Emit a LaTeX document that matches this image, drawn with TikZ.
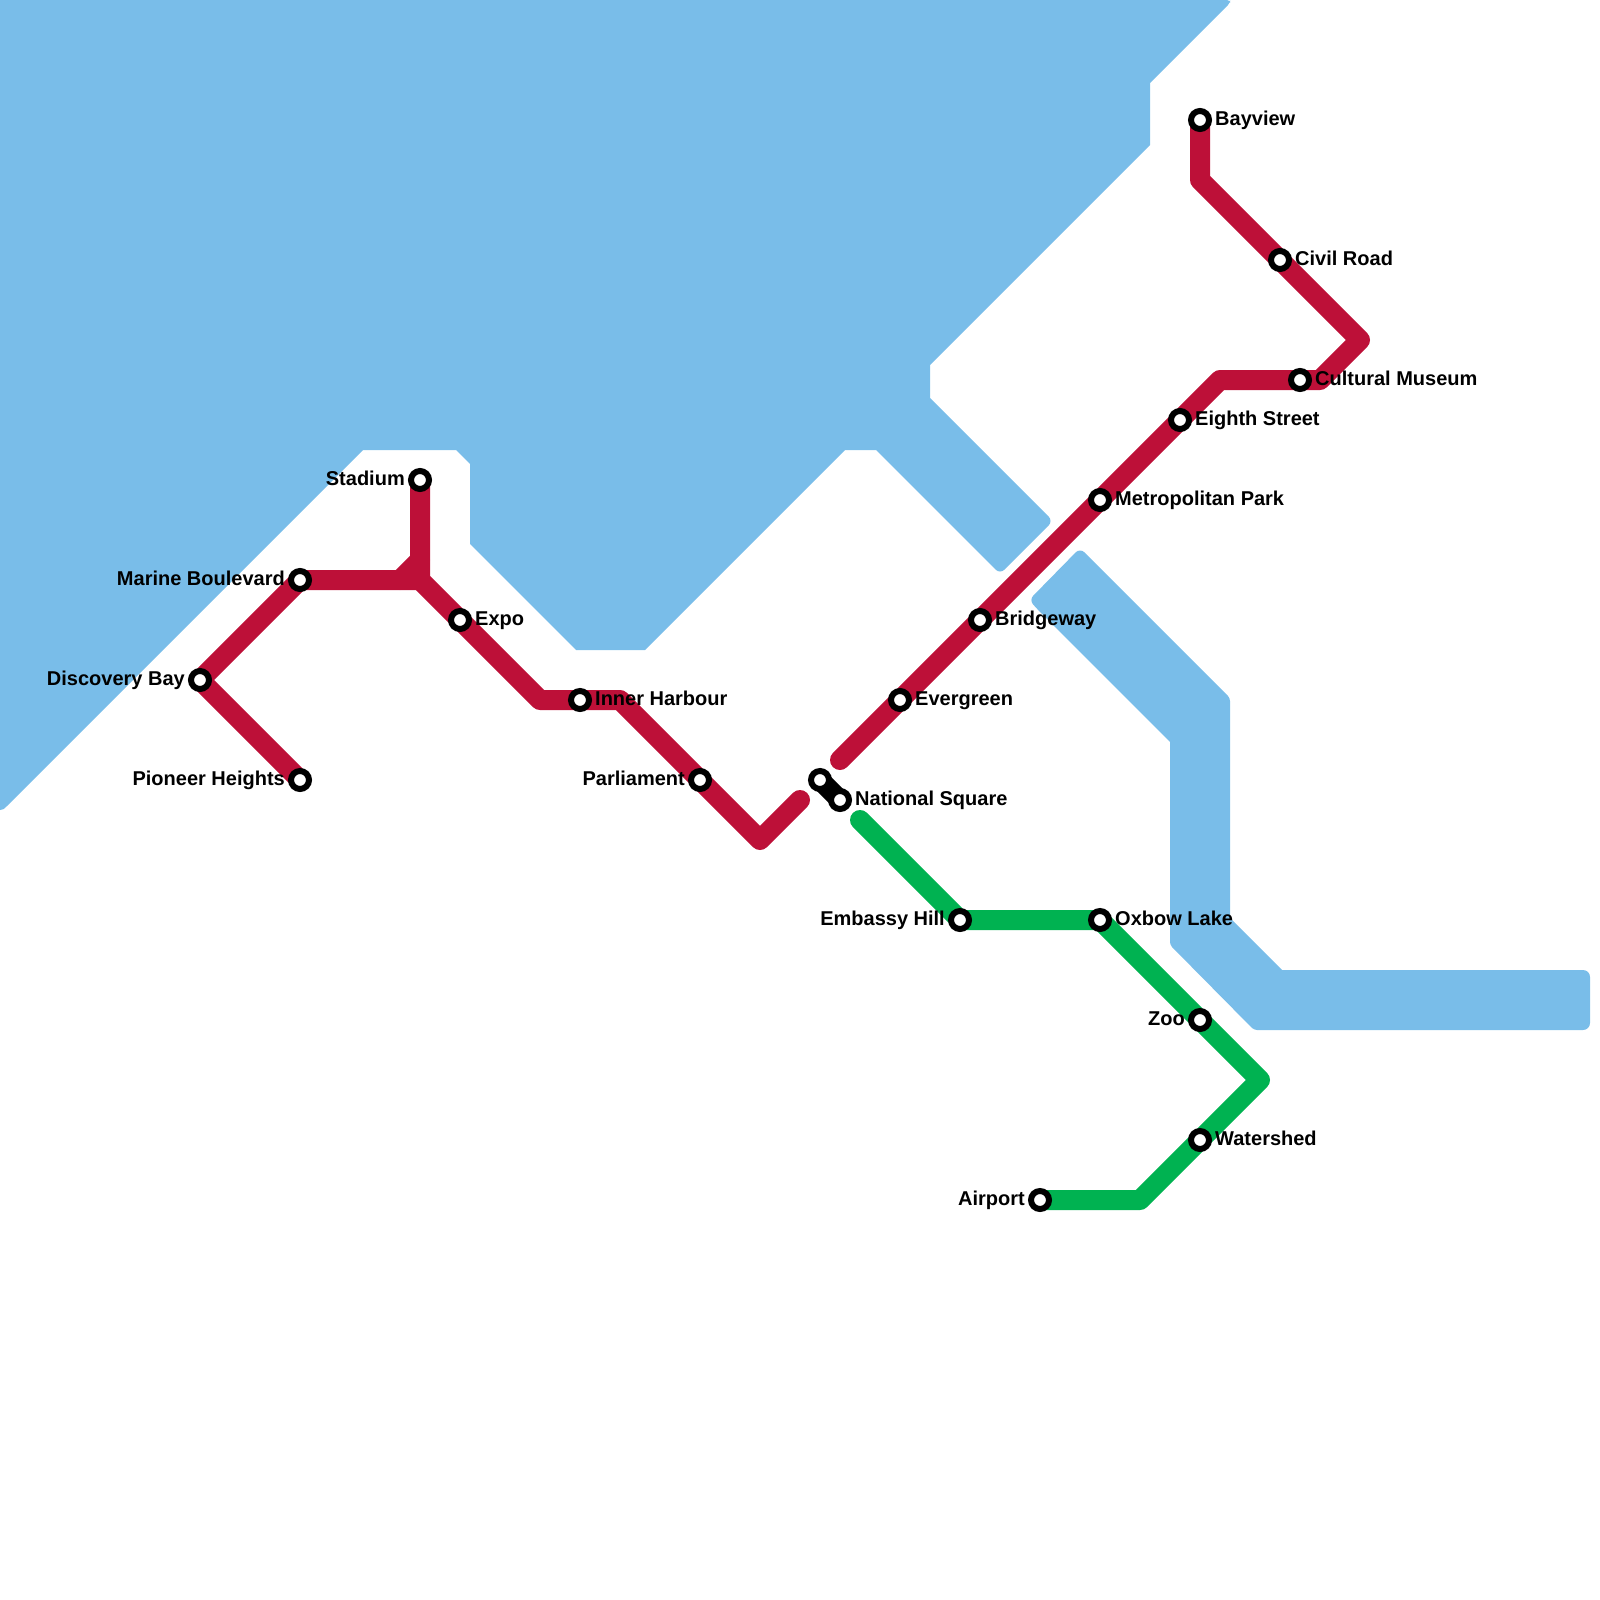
\documentclass[tikz,border=0pt]{standalone}
\usepackage{fontspec}
\setmainfont{Liberation Sans}
\pgfdeclarelayer{water}
\pgfdeclarelayer{lines}
\pgfsetlayers{water,lines,main}
\definecolor{waterblue}{HTML}{79BDE9}
\definecolor{redline}{HTML}{BD1038}
\definecolor{greenline}{HTML}{00B251}
\tikzset{
  x=1pt,y=-1pt,
  waterfill/.style={fill=waterblue,draw=none},
  metro/.style={line width=20pt,line join=round,line cap=round},
  stationmark/.style={circle,draw=black,fill=white,line width=6pt,minimum size=18pt,inner sep=0pt},
  stationtext/.style={font=\bfseries\fontsize{20}{20}\selectfont,text=black,inner sep=0pt},
}
\newcommand{\stR}[4]{\node[stationmark] (#1) at (#2,#3) {};\node[stationtext,anchor=base west] (#1t) at (#2+15,#3+5) {#4};}
\newcommand{\stL}[4]{\node[stationmark] (#1) at (#2,#3) {};\node[stationtext,anchor=base east] (#1t) at (#2-15,#3+5) {#4};}
\begin{document}
\begin{tikzpicture}
\useasboundingbox (0,0) rectangle (1600,1600);
\begin{pgfonlayer}{water}
\fill[waterfill] (0,0) -- (1220,0) [rounded corners=3pt] -- (1230,0) -- (1230,3) [sharp corners] -- (1150,83) -- (1150,145) -- (930,365) -- (930,398)
  -- (1047,515) [rounded corners=6pt] -- (1053,521) -- (1000,574) [sharp corners] -- (876,450) -- (845,450) -- (645,650) -- (576,650) -- (470,544) -- (470,464) -- (456,450) -- (363,450)
  -- (7,806) .. controls (4,809) and (3,810) .. (0,810) -- cycle;
\fill[waterfill] (1100,568) [rounded corners=3pt] -- (1230,698) [sharp corners] -- (1230,918) -- (1282,970)
  [rounded corners=7pt] -- (1590,970) -- (1590,1030) [rounded corners=3pt] -- (1254,1030) -- (1170,945) [sharp corners] -- (1170,742) -- (1040,612) [rounded corners=6pt] -- (1029,600) -- (1080,548) [sharp corners] -- cycle;
\end{pgfonlayer}
\stL{pioneer}{300}{780}{Pioneer Heights}
\stL{discovery}{200}{680}{Discovery Bay}
\stL{marine}{300}{580}{Marine Boulevard}
\stL{stadium}{420}{480}{Stadium}
\stR{expo}{460}{620}{Expo}
\stR{inner}{580}{700}{Inner Harbour}
\stL{parliament}{700}{780}{Parliament}
\node[stationmark] (nsa) at (820,780) {};
\stR{nsb}{840}{800}{National Square}
\stR{evergreen}{900}{700}{Evergreen}
\stR{bridgeway}{980}{620}{Bridgeway}
\stR{metropolitan}{1100}{500}{Metropolitan Park}
\stR{eighth}{1180}{420}{Eighth Street}
\stR{cultural}{1300}{380}{Cultural Museum}
\stR{civil}{1280}{260}{Civil Road}
\stR{bayview}{1200}{120}{Bayview}
\stL{embassy}{960}{920}{Embassy Hill}
\stR{oxbow}{1100}{920}{Oxbow Lake}
\stL{zoo}{1200}{1020}{Zoo}
\stR{watershed}{1200}{1140}{Watershed}
\stL{airport}{1040}{1200}{Airport}
\coordinate (r1) at (1200,180);
\coordinate (r2) at (1360,340);
\coordinate (r3) at (1320,380);
\coordinate (r4) at (1220,380);
\coordinate (r5) at (840,760);
\coordinate (r6) at (800,800);
\coordinate (r7) at (760,840);
\coordinate (r8) at (620,700);
\coordinate (r9) at (540,700);
\coordinate (r10) at (420,580);
\coordinate (r11) at (400,580);
\coordinate (r12) at (420,560);
\coordinate (g1) at (860,820);
\coordinate (g2) at (1260,1080);
\coordinate (g3) at (1140,1200);
\begin{pgfonlayer}{lines}
\draw[metro,redline] (bayview.center) -- (r1) -- (civil.center) -- (r2) -- (r3) -- (cultural.center) -- (r4) -- (eighth.center) -- (metropolitan.center) -- (bridgeway.center) -- (evergreen.center) -- (r5);
\draw[metro,redline] (r6) -- (r7) -- (parliament.center) -- (r8) -- (inner.center) -- (r9) -- (expo.center) -- (r10) -- (stadium.center);
\draw[metro,redline] (pioneer.center) -- (discovery.center) -- (marine.center) -- (r10);
\draw[metro,redline] (r11) -- (r12);
\draw[metro,greenline] (g1) -- (embassy.center) -- (oxbow.center) -- (zoo.center) -- (g2) -- (watershed.center) -- (g3) -- (airport.center);
\draw[line width=20pt,black] (nsa.center) -- (nsb.center);
\end{pgfonlayer}
\end{tikzpicture}
\end{document}
